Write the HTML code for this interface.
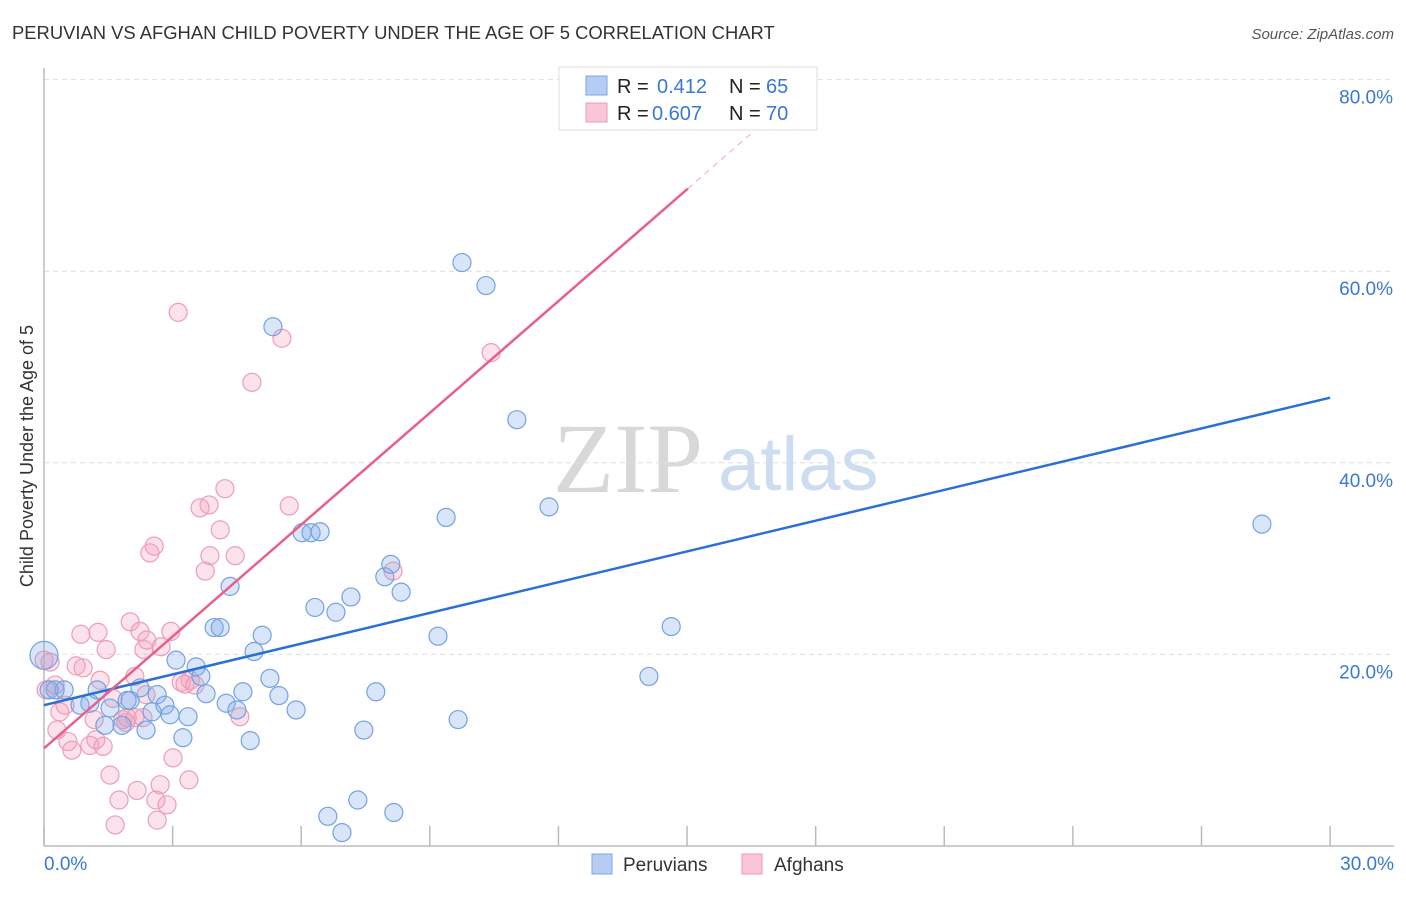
<!DOCTYPE html>
<html><head><meta charset="utf-8"><style>
body{margin:0;background:#fff;font-family:"Liberation Sans",sans-serif;}
</style></head><body>
<svg id="chart" width="1406" height="892" xmlns="http://www.w3.org/2000/svg" font-family="Liberation Sans, sans-serif">
<text x="12" y="39" font-size="18.4" fill="#333">PERUVIAN VS AFGHAN CHILD POVERTY UNDER THE AGE OF 5 CORRELATION CHART</text>
<text x="1394" y="39" font-size="15" fill="#555" text-anchor="end" font-style="italic">Source: ZipAtlas.com</text>
<text transform="translate(33,456) rotate(-90)" font-size="18" fill="#333" text-anchor="middle">Child Poverty Under the Age of 5</text>
<g>
<text x="553" y="492" font-size="100" style="font-family:'Liberation Serif',serif" fill="#d8d8d8">ZIP</text>
<text x="718" y="490" font-size="76" fill="#cddcf1">atlas</text>
</g>
<g id="grid"></g><g id="axes"></g><g id="marks"></g><g id="trends"></g>
<g>
<rect x="559" y="67" width="258" height="63" fill="#fff" stroke="#ddd"/>
<rect x="586" y="76" width="21" height="19" fill="#b5cdf3" stroke="#7aa6e6"/>
<rect x="586" y="103" width="21" height="19" fill="#f9c6d6" stroke="#ee9bb7"/>
<text x="617" y="93" font-size="20" fill="#222">R =</text><text x="657" y="93" font-size="20" fill="#3a78d4">0.412</text>
<text x="729" y="93" font-size="20" fill="#222">N =</text><text x="766" y="93" font-size="20" fill="#3a78d4">65</text>
<text x="617" y="120" font-size="20" fill="#222">R =</text><text x="652" y="120" font-size="20" fill="#3a78d4">0.607</text>
<text x="729" y="120" font-size="20" fill="#222">N =</text><text x="766" y="120" font-size="20" fill="#3a78d4">70</text>
</g>
<g>
<rect x="592" y="854" width="20" height="20" fill="#b5cdf3" stroke="#7aa6e6"/>
<text x="623" y="871" font-size="19" fill="#333">Peruvians</text>
<rect x="742" y="854" width="20" height="20" fill="#f9c6d6" stroke="#ee9bb7"/>
<text x="774" y="871" font-size="19" fill="#333">Afghans</text>
</g>
</svg>
<script>
const yTicks=[20,40,60,80];
const xTickLabels=["0.0%","30.0%"];
const peruX=[0,0.47,0.26,0.12,1.24,0.84,1.07,1.54,1.42,1.82,2.01,2.24,1.94,2.52,2.38,2.64,2.82,2.94,3.08,3.24,3.36,3.55,3.66,3.78,3.97,4.11,4.34,4.25,4.50,4.64,4.81,4.90,5.09,5.27,5.34,5.48,5.88,6.02,6.23,6.44,6.32,6.62,6.81,6.95,7.16,7.32,7.46,7.74,7.95,8.09,8.16,8.33,9.19,9.38,9.66,9.75,10.31,11.03,11.78,14.11,14.63,28.41];
const peruY=[19.9,16.3,16.3,16.3,16.3,14.7,14.9,14.4,12.6,12.6,15.2,16.5,15.2,14.0,12.1,15.8,14.7,13.7,19.4,11.3,13.5,18.7,17.7,15.9,22.8,22.8,27.1,14.9,14.2,16.1,11.0,20.3,22.0,17.5,54.2,15.7,14.2,32.7,32.7,32.8,24.9,3.1,24.4,1.4,26.0,4.8,12.1,16.1,28.1,29.4,3.5,26.5,21.9,34.3,13.2,60.9,58.5,44.5,35.4,17.7,22.9,33.6];
const afgX=[0,0.14,0.05,0.26,0.37,0.49,0.30,0.56,0.65,0.75,0.86,0.91,1.07,1.17,1.21,1.26,1.31,1.38,1.45,1.54,1.61,1.66,1.75,1.84,1.94,2.01,2.12,2.17,2.24,2.33,2.40,2.47,2.57,2.61,2.71,2.73,2.87,2.96,3.01,3.13,3.20,3.29,3.38,3.41,3.52,3.64,3.76,3.85,3.87,4.11,4.22,4.46,4.57,4.85,5.55,5.72,8.14,10.43,2.64,2.12,1.91,2.31,2.38];
const afgY=[19.4,19.2,16.3,16.8,14.0,14.7,12.1,10.9,10.0,18.8,22.1,18.6,10.5,13.2,11.1,22.3,17.3,10.4,20.5,7.4,15.4,2.2,4.8,13.2,13.4,23.4,17.7,5.8,22.4,20.5,21.5,30.6,31.3,4.8,6.4,20.8,4.3,22.4,9.2,55.7,17.1,16.9,6.9,17.3,16.8,35.3,28.7,35.6,30.3,33.0,37.3,30.3,13.5,48.4,53.0,35.5,28.7,51.5,2.7,13.4,12.9,13.4,15.8];
const blueTrend=[14.7,46.8];
const pinkTrend=[10.2,3.89];
const NS="http://www.w3.org/2000/svg";
const sx=v=>44+v*42.87, sy=v=>846-v*9.58;
function mk(tag,attrs,parent){const e=document.createElementNS(NS,tag);for(const k in attrs)e.setAttribute(k,attrs[k]);document.getElementById(parent).appendChild(e);return e;}
yTicks.forEach(t=>{
 const l=mk('line',{x1:44,x2:1394,y1:sy(t),y2:sy(t),stroke:'#ddd','stroke-dasharray':'5,4'},'grid');
 
 
 const tx=mk('text',{x:1393,y:sy(t)+24,'font-size':19,fill:'#3a78d4','text-anchor':'end'},'grid');
 tx.textContent=t.toFixed(1)+'%';
 
 
});
const ax=mk('line',{x1:44,x2:44,y1:68,y2:846,stroke:'#bbb','stroke-width':1.5},'axes');


const bx=mk('line',{x1:44,x2:1394,y1:846,y2:846,stroke:'#bbb','stroke-width':1.5},'axes');


for(let i=0;i<=10;i++){const t=mk('line',{x1:sx(i*3),x2:sx(i*3),y1:826,y2:846,stroke:'#bbb','stroke-width':1.5},'axes');
 
 }
[[0,'start'],[30,'end']].forEach((p,i)=>{const t=mk('text',{x:i?1394:44,y:870,'font-size':19,fill:'#3a78d4','text-anchor':p[1]},'axes');t.textContent=xTickLabels[i];
 
 });
afgX.forEach((x,i)=>{const c=mk('circle',{cx:sx(x),cy:sy(afgY[i]),r:9,fill:'rgba(244,160,189,0.3)',stroke:'#ec9db8','stroke-width':1.2},'marks');
 
 });
peruX.forEach((x,i)=>{const c=mk('circle',{cx:sx(x),cy:sy(peruY[i]),r:i===0?14:9,fill:'rgba(130,170,232,0.3)',stroke:'#74a2e2','stroke-width':1.2},'marks');
 
 });
const bl=mk('line',{x1:sx(0),y1:sy(blueTrend[0]),x2:sx(30),y2:sy(blueTrend[1]),stroke:'#2a6fd6','stroke-width':2.5},'trends');


const xe=15.02, xd=(80-pinkTrend[0])/pinkTrend[1];
const pl=mk('line',{x1:sx(0),y1:sy(pinkTrend[0]),x2:sx(xe),y2:sy(pinkTrend[0]+pinkTrend[1]*xe),stroke:'#e8608a','stroke-width':2.5},'trends');


const pd=mk('line',{x1:sx(xe),y1:sy(pinkTrend[0]+pinkTrend[1]*xe),x2:sx(xd),y2:sy(80),stroke:'#f0a8c0','stroke-width':1,'stroke-dasharray':'6,5'},'trends');


</script>
</body></html>
